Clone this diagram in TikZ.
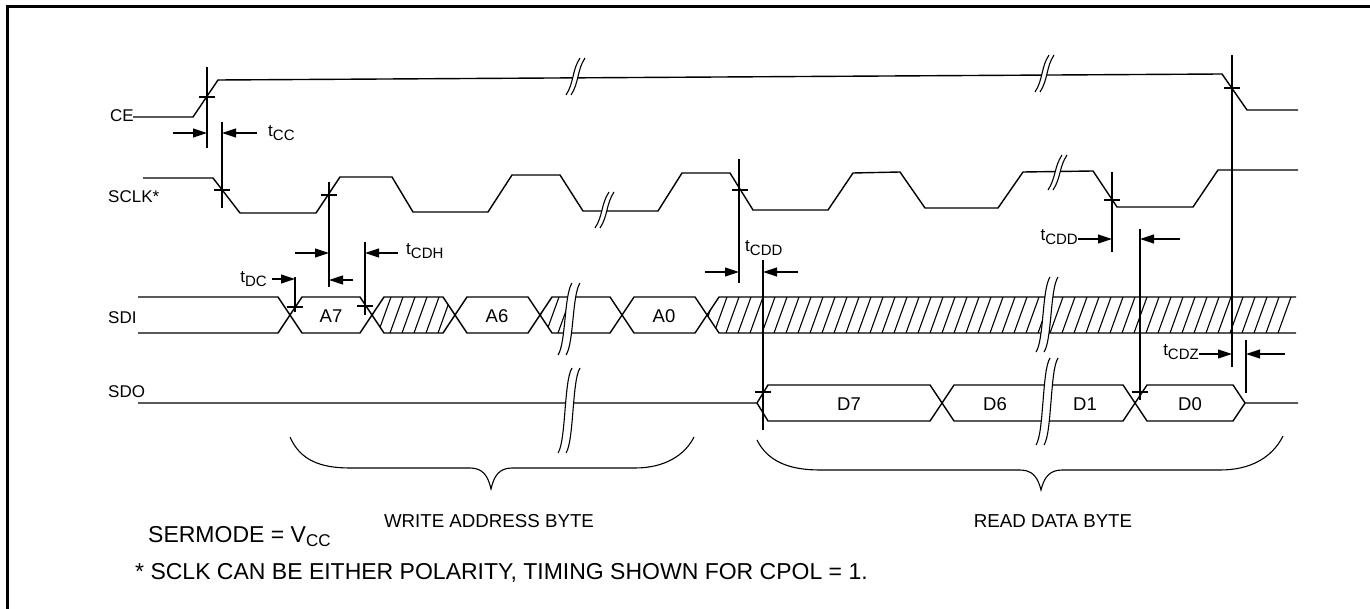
\documentclass[tikz,border=0pt]{standalone}
\usepackage{fontspec}
\setmainfont{Liberation Sans}
\usetikzlibrary{arrows.meta}
\newcommand{\tsub}[1]{t\raisebox{-4pt}{\fontsize{15}{15}\selectfont #1}}
% break mark: x, ytop, ybot, gap
\newcommand{\brkmark}[4]{%
 \fill[white] ({#1-7},#3) .. controls ({#1+1},{#3-12}) and ({#1-1},{#2+12}) .. ({#1+7},#2)
   -- ({#1+7+#4},#2) .. controls ({#1-1+#4},{#2+12}) and ({#1+1+#4},{#3-12}) .. ({#1-7+#4},#3) -- cycle;
 \draw[thinl] ({#1-7},#3) .. controls ({#1+1},{#3-12}) and ({#1-1},{#2+12}) .. ({#1+7},#2);
 \draw[thinl] ({#1-7+#4},#3) .. controls ({#1+1+#4},{#3-12}) and ({#1-1+#4},{#2+12}) .. ({#1+7+#4},#2);
}
\newcommand{\xhair}[2]{\draw[thinl] ({#1-8},#2) -- ({#1+8},#2);}
\begin{document}
\begin{tikzpicture}[x=1pt,y=-1pt,
  sig/.style={line width=1.4pt, line join=miter},
  thinl/.style={line width=1.1pt},
  dim/.style={line width=1.1pt, -{Triangle[length=14pt,width=9pt]}},
  lbl/.style={font=\fontsize{17}{17}\selectfont, inner sep=0pt},
  boxtxt/.style={font=\fontsize{18.5}{18.5}\selectfont, inner sep=0pt},
  bigtxt/.style={font=\fontsize{23}{23}\selectfont, inner sep=0pt},
  captxt/.style={font=\fontsize{18.7}{18.7}\selectfont, inner sep=0pt},
]
\useasboundingbox (0,0) rectangle (1370,609);
% frame
\draw[line width=3pt] (7,625) -- (7,7) -- (1385,7);

% ---------------- CE ----------------
\draw[sig] (133,117) -- (193,117) -- (218,80) -- (1222,74) -- (1247,110) -- (1298,110);
\brkmark{573}{58}{95}{5}
\brkmark{1042}{55}{92}{5}

% ---------------- SCLK ----------------
\draw[sig] (143,178) -- (213,178) -- (240,213) -- (316,213) -- (340,177) -- (392,177) -- (413,212)
  -- (488,212) -- (512,175) -- (560,175) -- (583,211) -- (658,211) -- (682,173) -- (730,173)
  -- (753,210) -- (828,210) -- (853,173) -- (900,172) -- (925,208) -- (998,208) -- (1023,172)
  -- (1093,171) -- (1117,207) -- (1193,207) -- (1218,170) -- (1298,170);
\brkmark{602}{192}{228}{5}
\brkmark{1055}{155}{190}{5}

% ---------------- SDI ----------------
\def\U{297}\def\L{333}\def\M{315}
\begin{scope}
 \clip (372,\M) -- (384,\U) -- (443,\U) -- (455,\M) -- (443,\L) -- (384,\L) -- cycle
       (540,\M) -- (552,\U) -- (566,\U) -- (566,\L) -- (552,\L) -- cycle
       (707,\M) -- (719,\U) -- (1293,\U) -- (1280,\L) -- (719,\L) -- cycle;
 \foreach \xx in {330,342,...,1300} \draw[thinl] (\xx,\L) -- ({\xx+13},\U);
\end{scope}
\draw[sig] (138,\U) -- (278,\U) -- (302,\L) -- (360,\L) -- (384,\U) -- (443,\U) -- (467,\L) -- (528,\L)
  -- (552,\U) -- (610,\U) -- (634,\L) -- (695,\L) -- (719,\U) -- (1296,\U);
\draw[sig] (138,\L) -- (278,\L) -- (302,\U) -- (360,\U) -- (384,\L) -- (443,\L) -- (467,\U) -- (528,\U)
  -- (552,\L) -- (610,\L) -- (634,\U) -- (695,\U) -- (719,\L) -- (1296,\L);
\brkmark{565}{283}{355}{8}
\brkmark{1043}{277}{352}{8}

% ---------------- SDO ----------------
\def\Ut{385}\def\Lt{421}\def\Mt{403}
\draw[sig] (138,\Mt) -- (757,\Mt) -- (768,\Ut) -- (930,\Ut) -- (954,\Lt) -- (1123,\Lt) -- (1147,\Ut)
  -- (1233,\Ut) -- (1245,\Mt) -- (1298,\Mt);
\draw[sig] (757,\Mt) -- (768,\Lt) -- (930,\Lt) -- (954,\Ut) -- (1123,\Ut) -- (1147,\Lt) -- (1233,\Lt) -- (1245,\Mt);
\brkmark{565}{368}{453}{8}
\brkmark{1043}{358}{445}{8}

% ---------------- vertical reference lines ----------------
\coordinate (v1t) at (207,67);  \coordinate (v1b) at (207,148);
\coordinate (v2t) at (222,122); \coordinate (v2b) at (222,208);
\coordinate (v3t) at (329,182); \coordinate (v3b) at (329,287);
\coordinate (v4t) at (365,242); \coordinate (v4b) at (365,315);
\coordinate (v5t) at (295,277); \coordinate (v5b) at (295,312);
\coordinate (v6t) at (739,159); \coordinate (v6b) at (739,283);
\coordinate (v7t) at (763,260); \coordinate (v7b) at (763,430);
\coordinate (v8t) at (1112,172); \coordinate (v8b) at (1112,252);
\coordinate (v9t) at (1140,229); \coordinate (v9b) at (1140,400);
\coordinate (v10t) at (1232,55); \coordinate (v10b) at (1232,367);
\coordinate (v11t) at (1246,340); \coordinate (v11b) at (1246,393);
\foreach \v in {v1,v2,v3,v4,v5,v6,v7,v8,v9,v10,v11} \draw[thinl] (\v t) -- (\v b);

% crosshair ticks
\xhair{207}{97}
\xhair{222}{190}
\xhair{329}{195}
\xhair{740}{190}
\xhair{1112}{200}
\xhair{1232}{88}
\xhair{295}{307}
\xhair{365}{306}
\xhair{763}{392}
\xhair{1140}{392}

% ---------------- dimension arrows ----------------
\draw[dim] (173,133) -- (207,133);
\draw[dim] (257,133) -- (222,133);
\draw[dim] (295,253) -- (329,253);
\draw[dim] (398,253) -- (365,253);
\draw[dim] (272,279) -- (295,279);
\draw[dim] (353,280) -- (329,280);
\draw[dim] (705,272) -- (739,272);
\draw[dim] (798,272) -- (763,272);
\draw[dim] (1078,239) -- (1112,239);
\draw[dim] (1180,239) -- (1140,239);
\draw[dim] (1199,354) -- (1232,354);
\draw[dim] (1285,354) -- (1246,354);

% ---------------- labels ----------------
\node[lbl, anchor=east] (lce) at (134,116) {CE};
\node[lbl, anchor=west] (lsclk) at (108,197) {SCLK*};
\node[lbl, anchor=west] (lsdi) at (108,318) {SDI};
\node[lbl, anchor=west] (lsdo) at (108,392) {SDO};

\node[lbl, anchor=west] (ttcc) at (268,133) {\tsub{CC}};
\node[lbl, anchor=west] (ttcdh) at (406,251) {\tsub{CDH}};
\node[lbl, anchor=east] (ttdc) at (267,279) {\tsub{DC}};
\node[lbl, anchor=west] (ttcdd1) at (745,248) {\tsub{CDD}};
\node[lbl, anchor=east] (ttcdd2) at (1078,237) {\tsub{CDD}};
\node[lbl, anchor=east] (ttcdz) at (1199,352) {\tsub{CDZ}};

\node[boxtxt] (a7) at (331,316) {A7};
\node[boxtxt] (a6) at (497,316) {A6};
\node[boxtxt] (a0) at (664,316) {A0};
\node[boxtxt] (d7) at (849,404) {D7};
\node[boxtxt] (d6) at (995,404) {D6};
\node[boxtxt] (d1) at (1085,404) {D1};
\node[boxtxt] (d0) at (1190,404) {D0};

% braces
\draw[thinl] (290,437) .. controls (300,460) and (320,468) .. (350,468) -- (470,468)
  .. controls (483,468) and (488,476) .. (491,489) .. controls (494,476) and (499,468) .. (512,468)
  -- (635,468) .. controls (665,468) and (685,455) .. (694,437);
\draw[thinl] (757,440) .. controls (768,462) and (790,470) .. (820,470) -- (1020,470)
  .. controls (1033,470) and (1038,478) .. (1041,490) .. controls (1044,478) and (1049,470) .. (1062,470)
  -- (1220,470) .. controls (1250,470) and (1272,458) .. (1283,436);

\node[captxt] (wab) at (489,521) {WRITE ADDRESS BYTE};
\node[captxt] (rdb) at (1053,521) {READ DATA BYTE};
\node[bigtxt, anchor=west] (sermode) at (148,537) {SERMODE = V\raisebox{-4pt}{\fontsize{17}{17}\selectfont CC}};
\node[bigtxt, anchor=west] (foot) at (135,573) {* SCLK CAN BE EITHER POLARITY, TIMING SHOWN FOR CPOL = 1.};
\end{tikzpicture}
\end{document}
